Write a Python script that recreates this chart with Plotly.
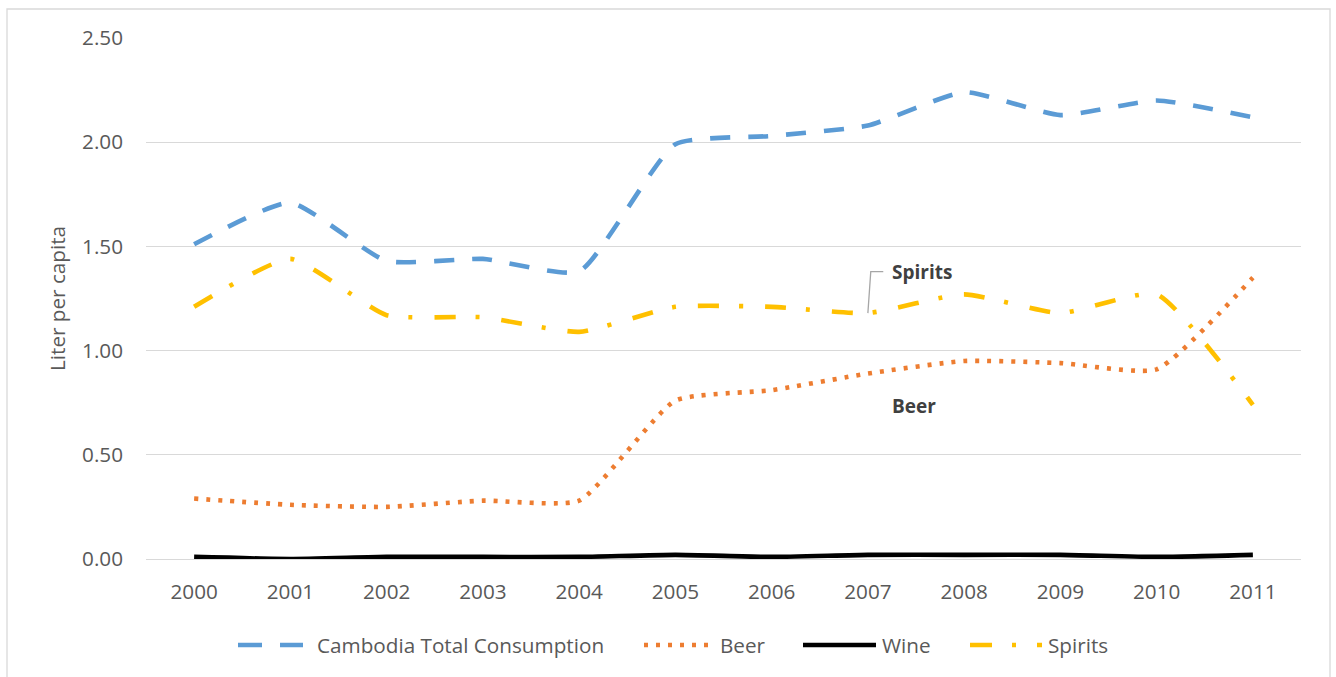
import plotly.graph_objects as go

# Per-capita alcohol consumption, Cambodia (litres of pure alcohol)
years = [2000, 2001, 2002, 2003, 2004, 2005, 2006, 2007, 2008, 2009, 2010, 2011]
total = [1.51, 1.71, 1.43, 1.44, 1.38, 1.99, 2.03, 2.08, 2.24, 2.13, 2.20, 2.12]
beer = [0.29, 0.26, 0.25, 0.28, 0.28, 0.76, 0.81, 0.89, 0.95, 0.94, 0.91, 1.35]
wine = [0.01, 0.00, 0.01, 0.01, 0.01, 0.02, 0.01, 0.02, 0.02, 0.02, 0.01, 0.02]
spirits = [1.21, 1.44, 1.17, 1.16, 1.09, 1.21, 1.21, 1.18, 1.27, 1.18, 1.27, 0.74]
y_ticks = [0.0, 0.5, 1.0, 1.5, 2.0, 2.5]

W, H = 1336, 677
M_L, M_R, M_T, M_B = 146, 35, 38, 118
PW, PH = W - M_L - M_R, H - M_T - M_B

def px_x(p):
    return (p - M_L) / PW

def px_y(p):
    return (H - M_B - p) / PH

FONT = "Open Sans"
FS = 20.7
GREY_TXT = "#595959"
GRID = "#d9d9d9"

series = [
    # name, values, colour, dash (plot), dash (legend key), legend key x0, x1, text x
    ("Cambodia Total Consumption", total, "#5b9bd5", "20px,18px", "24px,18px", 238, 303, 315),
    ("Beer", beer, "#ed7d31", "4px,8px", "4px,8px", 644, 710, 718),
    ("Wine", wine, "#000000", "solid", "solid", 803, 876, 880),
    ("Spirits", spirits, "#ffc000", "21px,20px,4px,22px", "22px,20px,4px,21px", 970, 1042, 1046),
]

fig = go.Figure()
for name, vals, color, dash, _, _, _, _ in series:
    fig.add_trace(go.Scatter(
        x=years, y=vals, name=name, mode="lines",
        line=dict(color=color, width=4.6, dash=dash, shape="spline", smoothing=0.5),
        hoverinfo="x+y+name",
    ))

shapes = []
annotations = []

# Outer chart frame
shapes.append(dict(type="rect", xref="paper", yref="paper",
                   x0=px_x(7), x1=px_x(1330), y0=px_y(700), y1=px_y(9),
                   line=dict(color=GRID, width=1.3), fillcolor="rgba(0,0,0,0)", layer="below"))

# Legend drawn beneath the axis
LEG_Y = 645
for name, _, color, _, kdash, kx0, kx1, tx in series:
    shapes.append(dict(type="line", xref="paper", yref="paper",
                       x0=px_x(kx0), x1=px_x(kx1), y0=px_y(LEG_Y), y1=px_y(LEG_Y),
                       line=dict(color=color, width=4.6, dash=kdash)))
    annotations.append(dict(xref="paper", yref="paper", x=px_x(tx), y=px_y(LEG_Y),
                            text=name, showarrow=False, xanchor="left", yanchor="middle",
                            font=dict(family=FONT, size=FS, color=GREY_TXT)))

# Data-label callouts
label_y_spirits = 1.379
shapes.append(dict(type="path", xref="x", yref="y",
                   path=f"M 2007,{spirits[years.index(2007)]} L 2007.03,{label_y_spirits} L 2007.16,{label_y_spirits}",
                   line=dict(color="#a6a6a6", width=1.3)))
annotations.append(dict(xref="x", yref="y", x=2007.23, y=label_y_spirits, text="<b>Spirits</b>",
                        showarrow=False, xanchor="left", yanchor="middle",
                        font=dict(family=FONT, size=19, color="#404040")))
annotations.append(dict(xref="x", yref="y", x=2007.23, y=0.735, text="<b>Beer</b>",
                        showarrow=False, xanchor="left", yanchor="middle",
                        font=dict(family=FONT, size=19, color="#404040")))

# Y-axis title
annotations.append(dict(xref="paper", yref="paper", x=px_x(57), y=px_y(299),
                        text="Liter per capita", textangle=-90, showarrow=False,
                        xanchor="center", yanchor="middle",
                        font=dict(family=FONT, size=FS, color=GREY_TXT)))

fig.update_layout(
    width=W, height=H,
    margin=dict(l=M_L, r=M_R, t=M_T, b=M_B, autoexpand=False),
    paper_bgcolor="white", plot_bgcolor="white",
    showlegend=False,
    shapes=shapes, annotations=annotations,
    font=dict(family=FONT, size=FS, color=GREY_TXT),
)
fig.update_xaxes(
    range=[1999.5, 2011.5], tickvals=years, ticktext=[str(y) for y in years],
    showgrid=False, zeroline=False, showline=True, linecolor=GRID, linewidth=1.3,
    ticks="", ticklabelstandoff=14,
    tickfont=dict(family=FONT, size=FS, color=GREY_TXT),
)
fig.update_yaxes(
    range=[0, 2.5], tickvals=y_ticks, ticktext=[f"{v:.2f}" for v in y_ticks],
    showgrid=True, gridcolor=GRID, gridwidth=1.3, zeroline=False, showline=False,
    ticks="", ticklabelstandoff=22,
    tickfont=dict(family=FONT, size=FS, color=GREY_TXT),
)

fig.write_html("out.html")
